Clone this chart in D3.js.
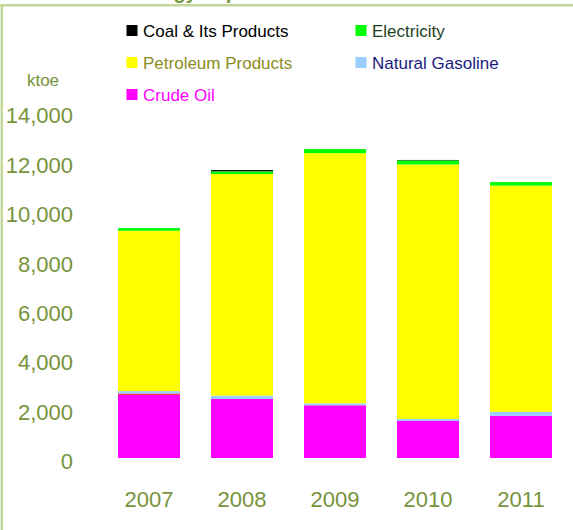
<!DOCTYPE html>
<html>
<head>
<meta charset="utf-8">
<script src="https://cdn.jsdelivr.net/npm/d3@7"></script>
<style>
  html, body { margin: 0; padding: 0; background: #fff; }
  svg { display: block; }
</style>
</head>
<body>
<svg id="chart" width="573" height="530"></svg>
<script>
// ---- data ----
const years = ["2007", "2008", "2009", "2010", "2011"];
const crudeOil          = [2565, 2390, 2135, 1500, 1713];
const other             = [45, 0, 0, 0, 0];
const naturalGasoline   = [100, 135, 80, 80, 160];
const petroleumProducts = [6495, 8975, 10130, 10310, 9160];
const electricity       = [105, 110, 165, 160, 140];
const coal              = [0, 50, 0, 20, 0];
const yTicks = [0, 2000, 4000, 6000, 8000, 10000, 12000, 14000];

const seriesNames = ["Crude Oil", "Other", "Natural Gasoline", "Petroleum Products", "Electricity", "Coal & Its Products"];
const seriesValues = [crudeOil, other, naturalGasoline, petroleumProducts, electricity, coal];
const seriesColors = ["#FF00FF", "#FF0000", "#99CCFF", "#FFFF00", "#00FF00", "#000000"];

const legendItems = [
  { name: "Coal & Its Products", color: "#000000", text: "#000000", col: 0, row: 0 },
  { name: "Electricity",         color: "#00FF00", text: "#1E3F1E", col: 1, row: 0 },
  { name: "Petroleum Products",  color: "#FFFF00", text: "#8C8C1E", col: 0, row: 1 },
  { name: "Natural Gasoline",    color: "#99CCFF", text: "#1A1A80", col: 1, row: 1 },
  { name: "Crude Oil",           color: "#FF00FF", text: "#FF00FF", col: 0, row: 2 }
];

// ---- build ----
const svg = d3.select("#chart");
const font = "'Liberation Sans', Arial, sans-serif";
const olive = "#77933C";

// border
svg.append("line").attr("x1", 0).attr("x2", 573).attr("y1", 5.3).attr("y2", 5.3)
  .attr("stroke", "#C4D79B").attr("stroke-width", 2.5);
svg.append("line").attr("x1", 1.8).attr("x2", 1.8).attr("y1", 4).attr("y2", 530)
  .attr("stroke", "#C4D79B").attr("stroke-width", 2.5);

// title (cut off at top, as in the reference)
svg.append("text").attr("x", 129).attr("y", -1)
  .attr("font-family", font).attr("font-weight", "bold").attr("font-size", 20)
  .attr("fill", olive).text("Energy Import");

const x = d3.scaleBand().domain(years).range([102.5, 567.5])
  .paddingInner(1/3).paddingOuter(1/6);
const y = d3.scaleLinear().domain([0, 14000]).range([458, 112.3]);

const table = years.map((yr, i) => {
  const row = { year: yr };
  seriesNames.forEach((n, k) => row[n] = seriesValues[k][i]);
  return row;
});
const stack = d3.stack().keys(seriesNames)(table);

svg.append("g").selectAll("g").data(stack).join("g")
  .attr("fill", (d, i) => seriesColors[i])
  .selectAll("rect").data(d => d).join("rect")
  .attr("x", d => x(d.data.year))
  .attr("width", x.bandwidth())
  .attr("y", d => y(d[1]))
  .attr("height", d => Math.max(0, y(d[0]) - y(d[1])));

// y axis
const yAxis = svg.append("g").attr("transform", "translate(74,0)")
  .call(d3.axisLeft(y).tickValues(yTicks).tickFormat(d3.format(",")).tickSize(0).tickPadding(1));
yAxis.select(".domain").remove();
yAxis.selectAll("text").attr("font-family", font).attr("font-size", 22)
  .attr("fill", olive).attr("dy", "0.48em");

// x axis
const xAxis = svg.append("g").attr("transform", "translate(0,458)")
  .call(d3.axisBottom(x).tickSize(0).tickPadding(33));
xAxis.select(".domain").remove();
xAxis.selectAll("text").attr("font-family", font).attr("font-size", 22)
  .attr("fill", olive);

// unit label
svg.append("text").attr("x", 43).attr("y", 86).attr("text-anchor", "middle")
  .attr("font-family", font).attr("font-size", 17).attr("fill", olive).text("ktoe");

// legend
const lg = svg.append("g").selectAll("g").data(legendItems).join("g")
  .attr("transform", d => `translate(${126.5 + d.col * 229},${25 + d.row * 32})`);
lg.append("rect").attr("width", 11).attr("height", 11).attr("fill", d => d.color);
lg.append("text").attr("x", 16.5).attr("y", 11.7)
  .attr("font-family", font).attr("font-size", 17)
  .attr("fill", d => d.text).text(d => d.name);
</script>
</body>
</html>
